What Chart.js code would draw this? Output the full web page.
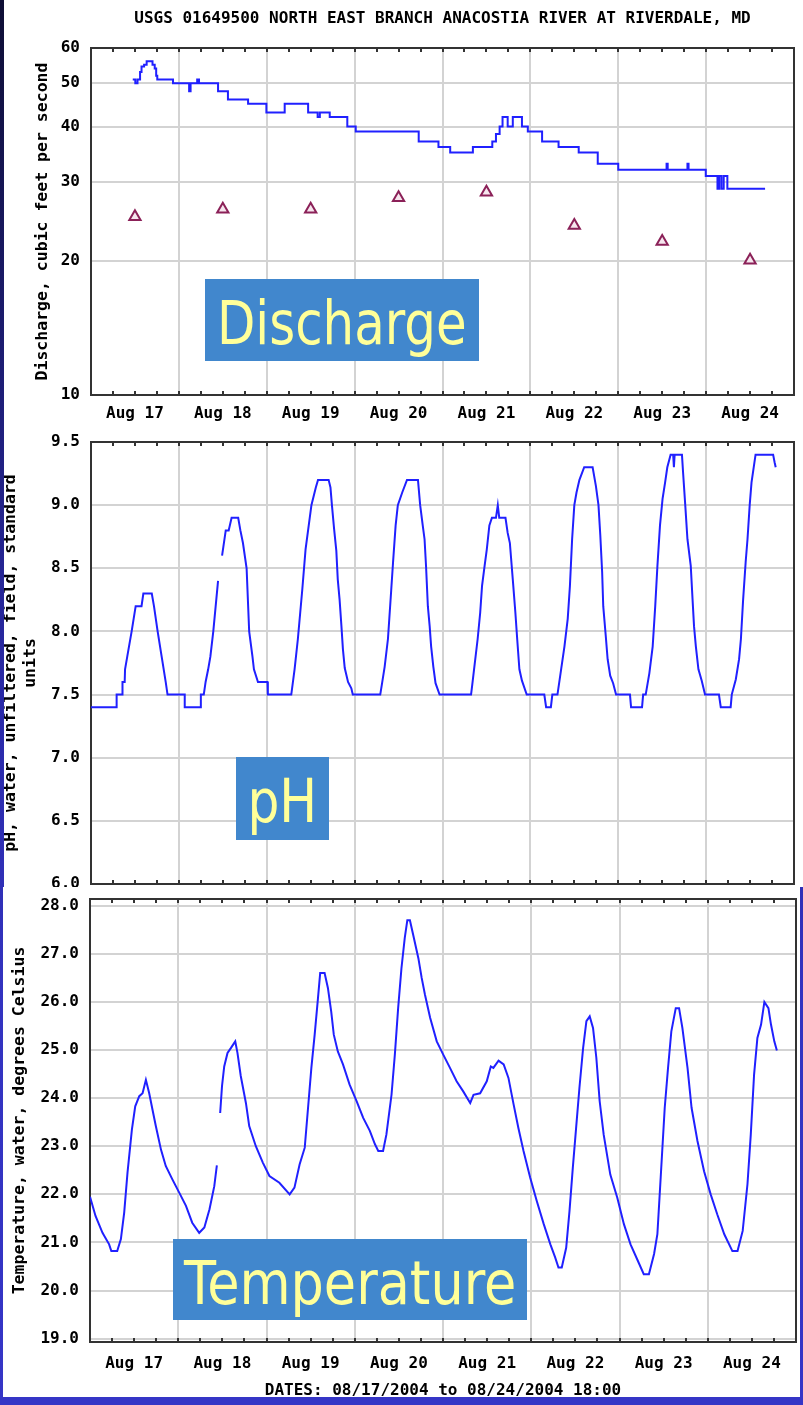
<!DOCTYPE html>
<html>
<head>
<meta charset="utf-8">
<title>USGS 01649500 North East Branch Anacostia River at Riverdale, MD</title>
<script src="https://cdn.jsdelivr.net/npm/chart.js@4.4.1/dist/chart.umd.min.js"></script>
<style>
  html, body { margin: 0; padding: 0; }
  body {
    width: 803px; height: 1405px; position: relative; overflow: hidden;
    background: linear-gradient(to bottom, #0e0e34 0px, #1b1b6c 320px, #2a2aa8 700px, #3333c0 1000px, #3535c6 1405px);
  }
  .panel { position: absolute; background: #fff; }
  .panel canvas { position: absolute; left: 0; top: 0; }
  .tag {
    position: absolute; box-sizing: border-box; background: #4187cd; color: #ffff99;
    font-family: "DejaVu Sans", Verdana, sans-serif; font-size: 61px; line-height: 78px;
    padding-top: 5px; display: flex; justify-content: center; align-items: flex-start;
    overflow: hidden; white-space: nowrap;
  }
  .tag span { display: block; flex: none; transform-origin: 50% 50%; }
</style>
</head>
<body>
<div class="panel" style="left:4px;top:0;width:799px;height:431px"><canvas id="cQ" width="799" height="431"></canvas></div>
<div class="panel" style="left:4px;top:431px;width:799px;height:456px"><canvas id="cPH" width="799" height="456"></canvas></div>
<div class="panel" style="left:3px;top:887px;width:797px;height:510px"><canvas id="cT" width="797" height="511"></canvas></div>

<div class="tag" style="left:205px;top:279px;width:274px;height:82px"><span data-w="250">Discharge</span></div>
<div class="tag" style="left:236px;top:757px;width:93px;height:83px"><span data-w="70">pH</span></div>
<div class="tag" style="left:173px;top:1239px;width:354px;height:81px"><span data-w="332">Temperature</span></div>

<script>
// hours since Aug 17 00:00 -> value
const TITLE = 'USGS 01649500 NORTH EAST BRANCH ANACOSTIA RIVER AT RIVERDALE, MD';
const DATES = 'DATES: 08/17/2004 to 08/24/2004 18:00';
const DAY_LABELS = ['Aug 17', 'Aug 18', 'Aug 19', 'Aug 20', 'Aug 21', 'Aug 22', 'Aug 23', 'Aug 24'];
const Q_TICKS = [10, 20, 30, 40, 50, 60];
const T_TICKS = [19, 20, 21, 22, 23, 24, 25, 26, 27, 28];

// discharge, cfs (stepped)
const DISCHARGE = [
  [11.4, 51], [12.1, 50], [12.7, 51], [13.4, 53], [13.8, 54.5], [14.5, 55], [15.2, 56],
  [16.8, 55], [17.4, 54], [17.8, 52], [18.1, 51], [22.4, 50], [26.8, 48], [27.0, 50],
  [27.1, 48], [27.2, 50], [29.0, 51], [29.5, 50], [34.7, 48], [37.4, 46], [42.9, 45],
  [47.9, 43], [52.9, 45], [59.3, 43], [61.9, 42], [62.5, 43], [65.2, 42], [70.0, 40],
  [72.3, 39], [89.5, 37], [94.9, 36], [98.1, 35], [104.3, 36], [109.6, 37], [110.6, 38.5],
  [111.6, 40], [112.4, 42], [113.8, 40], [115.2, 42], [117.7, 40], [119.3, 39], [123.2, 37],
  [127.7, 36], [133.2, 35], [138.4, 33], [144.0, 32], [157.2, 33], [157.5, 32], [162.9, 33],
  [163.2, 32], [167.9, 31], [171.1, 29], [171.6, 31], [172.2, 29], [172.8, 31], [173.8, 29],
  [184.1, 29]
];

// median daily discharge markers
const MEDIAN = [[12, 25.1], [36, 26.1], [60, 26.1], [84, 27.7], [108, 28.5], [132, 24.0], [156, 22.1], [180, 20.05]];

const PH = [
  [0, 7.4], [7.0, 7.4], [7.0, 7.5], [8.6, 7.5], [8.6, 7.6], [9.2, 7.6], [9.3, 7.7], [9.9, 7.8],
  [11.1, 8.0], [12.2, 8.2], [13.8, 8.2], [14.3, 8.3], [16.6, 8.3], [17.2, 8.2], [18.2, 8.0],
  [19.3, 7.8], [20.4, 7.6], [20.9, 7.5], [25.6, 7.5], [25.6, 7.4], [30.0, 7.4], [30.0, 7.5],
  [30.8, 7.5], [31.3, 7.6], [32.0, 7.7], [32.6, 7.8], [33.4, 8.0], [34.7, 8.4], [35.2, null],
  [35.8, 8.6], [36.8, 8.8], [37.6, 8.8], [38.4, 8.9], [40.2, 8.9], [40.8, 8.8], [41.5, 8.7],
  [42.5, 8.5], [43.2, 8.0], [44.1, 7.8], [44.5, 7.7], [45.6, 7.6], [48.2, 7.6], [48.3, 7.5],
  [54.7, 7.5],
  [55.6, 7.7], [56.5, 7.94], [57.7, 8.33], [58.6, 8.65], [60.2, 9.0], [61.4, 9.14], [62.0, 9.2],
  [64.9, 9.2], [65.4, 9.14], [65.8, 9.0], [66.4, 8.81], [67.0, 8.64], [67.4, 8.41], [67.9, 8.25],
  [68.4, 8.04], [68.8, 7.86], [69.3, 7.71], [70.2, 7.6], [71.1, 7.55], [71.5, 7.5], [79.0, 7.5],
  [79.5, 7.59], [80.2, 7.72], [81.1, 7.94], [82.0, 8.33], [82.5, 8.55], [83.2, 8.84], [83.8, 9.0],
  [85.0, 9.1], [86.3, 9.2], [89.3, 9.2], [89.9, 9.0], [90.6, 8.84], [91.1, 8.73], [91.5, 8.52],
  [92.0, 8.2], [92.5, 8.04], [92.9, 7.88], [93.5, 7.72], [94.1, 7.59], [95.2, 7.5], [103.8, 7.5],
  [104.1, 7.57], [104.7, 7.72], [105.6, 7.94], [106.3, 8.15], [106.8, 8.36], [107.5, 8.52],
  [108.1, 8.65], [108.8, 8.84], [109.5, 8.9], [110.6, 8.9], [111.1, 9.0], [111.5, 8.9],
  [113.2, 8.9], [113.8, 8.78], [114.4, 8.7], [115.2, 8.41], [115.9, 8.15], [116.4, 7.94],
  [117.0, 7.7], [117.7, 7.61], [119.0, 7.5], [123.8, 7.5], [124.3, 7.4], [125.6, 7.4],
  [126.0, 7.5], [127.4, 7.5],
  [128.4, 7.7], [129.3, 7.88], [130.2, 8.1], [130.8, 8.36], [131.4, 8.73], [132.0, 9.0],
  [132.6, 9.1], [133.4, 9.2], [134.7, 9.3], [137.0, 9.3], [137.9, 9.15], [138.6, 9.0],
  [139.1, 8.76], [139.6, 8.47], [139.9, 8.2], [140.6, 7.96], [141.1, 7.78], [141.8, 7.65],
  [142.6, 7.59], [143.4, 7.5], [147.2, 7.5], [147.5, 7.4], [150.5, 7.4], [150.8, 7.5], [151.5, 7.5],
  [152.5, 7.67], [153.4, 7.88], [154.1, 8.2], [154.7, 8.52], [155.4, 8.84], [156.1, 9.05],
  [156.8, 9.18], [157.4, 9.3], [158.3, 9.4], [159.0, 9.4], [159.2, 9.3], [159.4, 9.4],
  [161.4, 9.4], [161.7, 9.26], [162.3, 9.0], [162.9, 8.73], [163.8, 8.52], [164.3, 8.25],
  [164.7, 8.04], [165.2, 7.88], [165.9, 7.7], [166.8, 7.61], [167.7, 7.5], [171.5, 7.5],
  [172.0, 7.4], [174.7, 7.4], [175.0, 7.5],
  [176.1, 7.62], [177.0, 7.78], [177.5, 7.94], [178.1, 8.25], [178.8, 8.55], [179.3, 8.73],
  [179.9, 9.0], [180.4, 9.18], [181.5, 9.4], [186.3, 9.4], [186.7, 9.34], [187.0, 9.3]
];

// water temperature, deg C
const TEMP = [
  [0, 21.95], [1.5, 21.55], [3.4, 21.2], [5.2, 20.96], [5.8, 20.82], [7.4, 20.82], [8.4, 21.07],
  [9.3, 21.62], [10.2, 22.45], [11.4, 23.35], [12.3, 23.83], [13.4, 24.04], [14.3, 24.1],
  [15.2, 24.38], [16.1, 24.1], [17.0, 23.76], [17.9, 23.42], [19.3, 22.93], [20.6, 22.59],
  [22.4, 22.31], [24.3, 22.03], [26.1, 21.76], [27.8, 21.41], [29.7, 21.2], [31.1, 21.31],
  [32.5, 21.69], [33.8, 22.17], [34.5, 22.6], [34.9, null], [35.4, 23.69], [35.9, 24.25],
  [36.5, 24.66], [37.4, 24.94], [38.3, 25.04], [39.5, 25.18], [40.1, 24.94], [41.0, 24.46],
  [42.4, 23.9], [43.3, 23.42], [45.1, 23.0], [47.0, 22.66], [48.8, 22.38], [51.5, 22.24],
  [54.3, 22.0], [55.6, 22.14], [57.0, 22.62], [58.4, 22.97], [59.3, 23.8], [60.2, 24.63],
  [61.1, 25.32], [62.0, 26.08], [62.6, 26.6], [63.8, 26.6], [64.7, 26.29], [65.6, 25.8],
  [66.3, 25.32], [67.4, 24.97], [68.8, 24.7], [70.6, 24.28], [72.5, 23.94], [74.3, 23.59],
  [76.1, 23.32], [77.5, 23.04], [78.4, 22.9], [79.7, 22.9], [80.6, 23.24], [82.0, 24.07],
  [82.9, 24.9], [83.8, 25.87], [84.7, 26.7], [85.6, 27.33], [86.3, 27.7], [87.0, 27.7],
  [87.9, 27.39], [89.3, 26.91], [90.2, 26.5], [91.1, 26.15], [92.5, 25.67], [94.3, 25.18],
  [96.1, 24.9], [97.9, 24.63], [99.7, 24.35], [101.5, 24.14], [103.4, 23.9], [104.3, 24.07],
  [106.1, 24.1], [107.9, 24.35], [109.0, 24.66], [109.7, 24.63], [111.1, 24.78], [112.5, 24.7],
  [113.8, 24.42], [115.2, 23.87], [116.5, 23.38], [117.9, 22.9], [119.7, 22.35], [121.5, 21.86],
  [123.4, 21.38], [125.2, 20.96], [126.5, 20.69], [127.4, 20.48], [128.3, 20.48], [129.5, 20.89],
  [130.4, 21.65], [131.3, 22.55], [132.2, 23.38], [133.1, 24.21], [134.1, 25.04], [135.0, 25.6],
  [135.9, 25.7], [136.8, 25.46], [137.7, 24.84], [138.6, 23.94], [139.7, 23.24], [141.5, 22.41],
  [143.4, 21.93], [145.2, 21.38], [147.0, 20.96], [148.8, 20.65], [150.6, 20.34], [152.0, 20.34],
  [153.4, 20.76], [154.3, 21.17], [155.2, 22.35], [156.3, 23.8], [157.2, 24.63], [158.1, 25.39],
  [159.3, 25.87], [160.2, 25.87], [161.1, 25.46], [162.5, 24.63], [163.6, 23.8], [165.2, 23.11],
  [167.0, 22.48], [168.8, 22.0], [170.6, 21.58], [172.5, 21.17], [174.7, 20.82], [176.1, 20.82],
  [177.5, 21.24], [178.8, 22.21], [179.7, 23.24], [180.6, 24.49], [181.5, 25.25], [182.5, 25.53],
  [183.4, 26.0], [184.5, 25.87], [185.2, 25.53], [186.1, 25.18], [186.8, 24.99]
];

const MONO = '"DejaVu Sans Mono", "Liberation Mono", monospace';
const TICK_FONT = { family: MONO, size: 16, weight: 'bold', lineHeight: 1.2 };
const AXIS_FONT = { family: MONO, size: 16.5, weight: 'bold', lineHeight: 1.2 };
const GRID = '#d3d3d3';
const LINE = '#2020ff';
const MARK = '#8b2158';

const pts = arr => arr.map(([x, y]) => ({ x, y }));

// plot frame + small inward ticks every 6 hours
const frame = {
  id: 'frame',
  beforeDatasetsDraw(chart) {
    const { ctx, chartArea: a, scales: { x } } = chart;
    ctx.save();
    ctx.strokeStyle = '#333';
    ctx.lineWidth = 2;
    ctx.strokeRect(a.left, a.top, a.right - a.left, a.bottom - a.top);
    ctx.beginPath();
    for (let h = 6; h < 192; h += 6) {
      const px = Math.round(x.getPixelForValue(h));
      ctx.moveTo(px, a.top); ctx.lineTo(px, a.top + 4);
      ctx.moveTo(px, a.bottom); ctx.lineTo(px, a.bottom - 4);
    }
    ctx.stroke();
    ctx.restore();
  }
};

function xAxis(height, pad, title) {
  return {
    type: 'linear', min: 0, max: 192,
    ticks: {
      stepSize: 12, autoSkip: false, maxRotation: 0, minRotation: 0, padding: pad,
      color: '#000', font: TICK_FONT,
      callback: v => (v % 24 === 12 ? DAY_LABELS[(v - 12) / 24] : '')
    },
    grid: { drawTicks: false, lineWidth: 2, color: c => (c.tick && c.tick.value % 24 === 0 ? GRID : 'rgba(0,0,0,0)') },
    border: { display: false },
    title: title
      ? { display: true, text: title, color: '#000', font: TICK_FONT, padding: { top: 0, bottom: -2 } }
      : { display: false },
    afterFit: s => { s.height = height; s.paddingLeft = 0; s.paddingRight = 0; }
  };
}

function yAxis(opts, fmt, title, titlePad) {
  return Object.assign({
    ticks: { padding: 11, color: '#000', font: TICK_FONT, callback: fmt },
    grid: { drawTicks: false, lineWidth: 2, color: GRID },
    border: { display: false },
    title: { display: true, text: title, color: '#000', font: AXIS_FONT, padding: { top: titlePad, bottom: 0 } },
    afterFit: s => { s.width = 87; s.paddingTop = 0; s.paddingBottom = 0; }
  }, opts);
}

function lineSet(data, extra) {
  return Object.assign({ data: pts(data), borderColor: LINE, borderWidth: 2, pointRadius: 0, fill: false }, extra || {});
}

const base = {
  responsive: false, animation: false, events: [], devicePixelRatio: 1,
  plugins: { legend: { display: false }, tooltip: { enabled: false }, title: { display: false } }
};

new Chart(document.getElementById('cQ'), {
  type: 'line',
  data: {
    datasets: [
      lineSet(DISCHARGE, { stepped: true }),
      {
        data: pts(MEDIAN), showLine: false, pointStyle: 'triangle', pointRadius: 6.5,
        pointBorderColor: MARK, pointBackgroundColor: '#f6e6ee', pointBorderWidth: 2
      },
      {
        data: pts(MEDIAN), showLine: false, pointStyle: 'rect', pointRadius: 1.3,
        pointBorderColor: MARK, pointBackgroundColor: MARK, pointBorderWidth: 0
      }
    ]
  },
  options: Object.assign({}, base, {
    layout: { padding: { left: 0, right: 9, top: 0, bottom: 0 } },
    plugins: Object.assign({}, base.plugins, {
      title: {
        display: true, text: TITLE, fullSize: false, color: '#000',
        font: { family: MONO, size: 16, weight: 'bold', lineHeight: 1.2 },
        padding: { top: 9, bottom: 19.8 }
      }
    }),
    scales: {
      x: xAxis(36, 9),
      y: yAxis({
        type: 'logarithmic', min: 10, max: 60,
        afterBuildTicks: s => { s.ticks = Q_TICKS.map(v => ({ value: v })); }
      }, v => String(v), 'Discharge, cubic feet per second', 29)
    }
  }),
  plugins: [frame]
});

new Chart(document.getElementById('cPH'), {
  type: 'line',
  data: { datasets: [lineSet(PH)] },
  options: Object.assign({}, base, {
    layout: { padding: { left: 0, right: 9, top: 11, bottom: 0 } },
    scales: {
      x: xAxis(3, 9),
      y: yAxis({ type: 'linear', min: 6, max: 9.5, ticks: { stepSize: 0.5, padding: 11, color: '#000', font: TICK_FONT, callback: v => v.toFixed(1) } },
        v => v.toFixed(1), ['pH, water, unfiltered, field, standard', 'units'], -3)
    }
  }),
  plugins: [frame]
});

new Chart(document.getElementById('cT'), {
  type: 'line',
  data: { datasets: [lineSet(TEMP)] },
  options: Object.assign({}, base, {
    layout: { padding: { left: 0, right: 4, top: 12, bottom: 0 } },
    scales: {
      x: xAxis(56, 12, DATES),
      y: yAxis({
        type: 'linear', min: 18.93, max: 28.14,
        afterBuildTicks: s => { s.ticks = T_TICKS.map(v => ({ value: v })); }
      }, v => v.toFixed(1), 'Temperature, water, degrees Celsius', 7)
    }
  }),
  plugins: [frame]
});

// squeeze the slide labels to the width they have in the picture
document.querySelectorAll('.tag span').forEach(sp => {
  const k = Number(sp.dataset.w) / sp.offsetWidth;
  sp.style.transform = 'scaleX(' + k.toFixed(3) + ')';
});
</script>
</body>
</html>
